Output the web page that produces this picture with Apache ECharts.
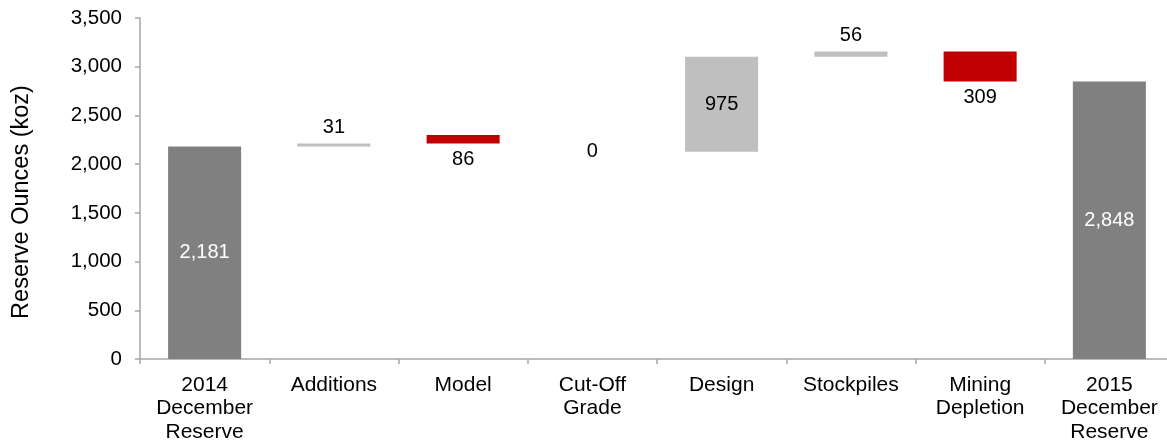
<!DOCTYPE html>
<html>
<head>
<meta charset="utf-8">
<script src="https://cdn.jsdelivr.net/npm/echarts@6/dist/echarts.min.js"></script>
<style>
html,body{margin:0;padding:0;background:#fff;}
#chart{width:1167px;height:445px;}
</style>
</head>
<body>
<div id="chart"></div>
<script>
// Categories (x axis)
const categories = ['2014\nDecember\nReserve', 'Additions', 'Model', 'Cut-Off\nGrade', 'Design', 'Stockpiles', 'Mining\nDepletion', '2015\nDecember\nReserve'];
// Lower edge of each visible bar (koz)
const barBase = [0, 2181, 2212, 2126, 2126, 3101, 2848, 0];
// Height of each visible bar (koz)
const barSize = [2181, 31, 86, 0, 975, 56, 309, 2848];
// Kind of step
const kinds = ['total', 'increase', 'decrease', 'none', 'increase', 'increase', 'decrease', 'total'];
// Value labels
const valueLabels = ['2,181', '31', '86', '0', '975', '56', '309', '2,848'];
// Y axis ticks
const yMin = 0, yMax = 3500, yStep = 500;

const colors = { total: '#808080', increase: '#BFBFBF', decrease: '#C00000', none: '#BFBFBF' };
const FONT = 'Liberation Sans, Arial, sans-serif';

function labelFor(i) {
  const k = kinds[i];
  const base = { show: true, formatter: valueLabels[i], fontFamily: FONT, fontSize: 20, color: '#000' };
  if (k === 'total') return Object.assign(base, { position: 'inside', color: '#fff' });
  if (k === 'none') return Object.assign(base, { position: 'inside' });
  if (k === 'decrease') return Object.assign(base, { position: 'bottom', distance: 6 });
  if (barSize[i] > 300) return Object.assign(base, { position: 'inside' });
  return Object.assign(base, { position: 'top', distance: 6 });
}

const chart = echarts.init(document.getElementById('chart'), null, { renderer: 'canvas' });
chart.setOption({
  animation: false,
  backgroundColor: '#fff',
  grid: { left: 140, top: 18, bottom: 86, width: 1034, containLabel: false, outerBoundsMode: 'none' },
  xAxis: {
    type: 'category',
    data: categories,
    axisLine: { lineStyle: { color: '#A6A6A6', width: 1.5 } },
    axisTick: { show: true, length: 5, alignWithLabel: false, lineStyle: { color: '#A6A6A6', width: 1.5 } },
    axisLabel: { color: '#000', fontFamily: FONT, fontSize: 21, lineHeight: 23.5, margin: 14, interval: 0 },
    splitLine: { show: false }
  },
  yAxis: {
    type: 'value',
    min: yMin, max: yMax, interval: yStep,
    name: 'Reserve Ounces (koz)',
    nameLocation: 'middle',
    nameGap: 106,
    nameRotate: 90,
    nameTextStyle: { color: '#000', fontFamily: FONT, fontSize: 23.5, padding: [0, 27, 0, 0] },
    axisLine: { show: true, lineStyle: { color: '#A6A6A6', width: 1.5 } },
    axisTick: { show: true, length: 5, lineStyle: { color: '#A6A6A6', width: 1.5 } },
    axisLabel: {
      color: '#000', fontFamily: FONT, fontSize: 20.5, margin: 18,
      formatter: v => v.toLocaleString('en-US')
    },
    splitLine: { show: false }
  },
  series: [
    {
      type: 'bar', stack: 'wf', barWidth: '56.5%', silent: true,
      itemStyle: { color: 'transparent' },
      data: barBase
    },
    {
      type: 'bar', stack: 'wf', barWidth: '56.5%',
      data: barSize.map((v, i) => ({
        value: v,
        itemStyle: { color: colors[kinds[i]] },
        label: labelFor(i)
      }))
    }
  ]
});
</script>
</body>
</html>
